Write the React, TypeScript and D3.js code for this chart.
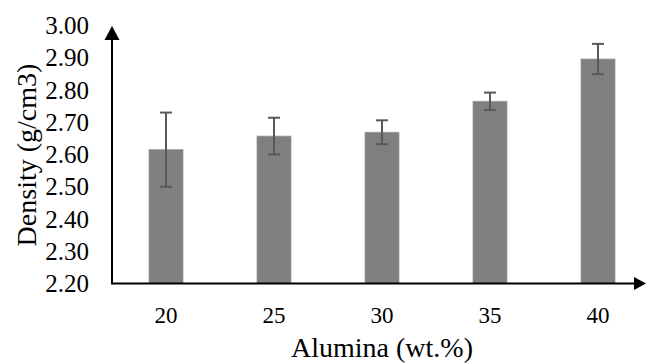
import React from "react";
import * as d3 from "d3";

const categories = ["20", "25", "30", "35", "40"];
const densities = [2.615, 2.657, 2.669, 2.765, 2.896];
const errors = [0.115, 0.057, 0.037, 0.027, 0.047];
const yTicks = [2.2, 2.3, 2.4, 2.5, 2.6, 2.7, 2.8, 2.9, 3.0];

export default function App() {
  const W = 646, H = 363;
  const x0 = 112, y0 = 283.5;
  const x = d3.scaleBand().domain(categories).range([x0, 652]).paddingInner(0.685).paddingOuter(0.3425);
  const y = d3.scaleLinear().domain([2.2, 3.0]).range([y0, 25.5]);
  const font = "Liberation Serif, Times New Roman, serif";
  return (
    <svg width={W} height={H} style={{ position: "absolute", left: 0, top: 0 }}>
      <rect width={W} height={H} fill="#fff" />
      {categories.map((c, i) => {
        const bx = x(c)!;
        const bw = x.bandwidth();
        const cx = bx + bw / 2;
        const v = densities[i], e = errors[i];
        return (
          <g key={c}>
            <rect x={bx} y={y(v)} width={bw} height={y0 - y(v)} fill="#7f7f7f" stroke="#9a9a9a" strokeWidth={0.8} />
            <line x1={cx} x2={cx} y1={y(v + e)} y2={y(v - e)} stroke="#595959" strokeWidth={2} />
            <line x1={cx - 6} x2={cx + 6} y1={y(v + e)} y2={y(v + e)} stroke="#595959" strokeWidth={2} />
            <line x1={cx - 6} x2={cx + 6} y1={y(v - e)} y2={y(v - e)} stroke="#595959" strokeWidth={2} />
            <text x={cx} y={315} textAnchor="middle" dominantBaseline="central" style={{ fontFamily: font }} fontSize={23} fill="#000">{c}</text>
          </g>
        );
      })}
      {yTicks.map((t) => (
        <text key={t} x={89} y={y(t)} textAnchor="end" dominantBaseline="central" style={{ fontFamily: font }} fontSize={25} fill="#000">{t.toFixed(2)}</text>
      ))}
      <line x1={x0} x2={x0} y1={y0 + 1} y2={36} stroke="#000" strokeWidth={2} />
      <path d={`M${x0 - 7.5},${40} L${x0 + 7.5},${40} L${x0},${26} Z`} fill="#000" />
      <line x1={x0} x2={638} y1={y0} y2={y0} stroke="#000" strokeWidth={2} />
      <path d={`M${634},${y0 - 6.5} L${634},${y0 + 6.5} L${646},${y0} Z`} fill="#000" />
      <text x={382} y={347} textAnchor="middle" dominantBaseline="central" style={{ fontFamily: font }} fontSize={28} fill="#000">Alumina (wt.%)</text>
      <text transform={`translate(26,155) rotate(-90)`} textAnchor="middle" dominantBaseline="central" style={{ fontFamily: font }} fontSize={28} fill="#000">Density (g/cm3)</text>
    </svg>
  );
}
